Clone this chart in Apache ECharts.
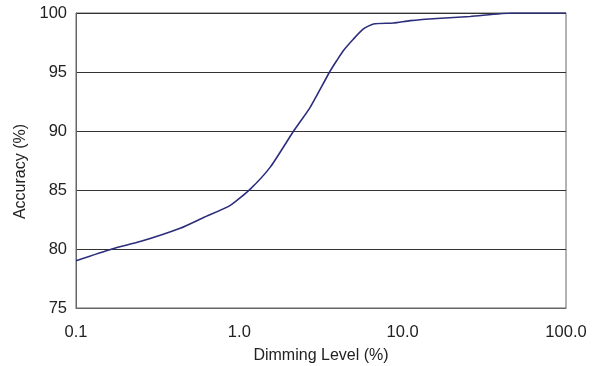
<!DOCTYPE html>
<html>
<head>
<meta charset="utf-8">
<script src="https://cdn.jsdelivr.net/npm/echarts@6/dist/echarts.min.js"></script>
<style>html,body{margin:0;padding:0;background:#fff}#c{width:599px;height:366px}</style>
</head>
<body>
<div id="c"></div>
<script>
var dimmingLevel = [0.1, 0.166, 0.25, 0.434, 0.6, 0.88, 1.17, 1.55, 2.15, 2.72, 3.57, 3.95, 4.34, 5.0, 5.75, 6.63, 8.8, 11.1, 16.2, 25.9, 46.6, 100];
var accuracy = [79.0, 80.0, 80.65, 81.76, 82.65, 83.7, 85.1, 86.96, 90.0, 92.03, 95.0, 95.97, 96.82, 97.8, 98.65, 99.07, 99.15, 99.35, 99.54, 99.7, 100.0, 100.0];
var yTicks = [75, 80, 85, 90, 95, 100];
var xName = 'Dimming Level (%)';
var yName = 'Accuracy (%)';

var seriesData = dimmingLevel.map(function (x, i) { return [x, accuracy[i]]; });
var font = 'Liberation Sans, Arial, sans-serif';
var chart = echarts.init(document.getElementById('c'), null, {renderer: 'canvas'});
chart.setOption({
  animation: false,
  grid: {left: 76, right: 33, top: 13, bottom: 58, outerBoundsMode: 'none', containLabel: false, show: true, borderColor: '#666', borderWidth: 1, backgroundColor: 'transparent'},
  xAxis: {
    type: 'log', logBase: 10, min: 0.1, max: 100,
    name: xName, nameLocation: 'middle', nameGap: 40,
    nameTextStyle: {fontFamily: font, fontSize: 16, color: '#222'},
    axisLine: {show: true, lineStyle: {color: '#666', width: 1}},
    axisTick: {show: false},
    splitLine: {show: false},
    minorTick: {show: false},
    axisLabel: {fontFamily: font, fontSize: 16.5, color: '#222', margin: 16,
      formatter: function (v) { return Number(v).toFixed(1); }}
  },
  yAxis: {
    type: 'value', min: yTicks[0], max: yTicks[yTicks.length - 1], interval: 5,
    name: yName, nameLocation: 'middle', nameGap: 43,
    nameTextStyle: {fontFamily: font, fontSize: 16, color: '#222', padding: [0, 22, 0, 0]},
    axisLine: {show: true, lineStyle: {color: '#666', width: 1}},
    axisTick: {show: false},
    splitLine: {show: true, lineStyle: {color: '#333', width: 1}},
    axisLabel: {fontFamily: font, fontSize: 16.5, color: '#222', margin: 9}
  },
  series: [{
    type: 'line',
    data: seriesData,
    smooth: 0.2,
    showSymbol: false,
    lineStyle: {color: '#2b2e7c', width: 1.6}
  }]
});
</script>
</body>
</html>
